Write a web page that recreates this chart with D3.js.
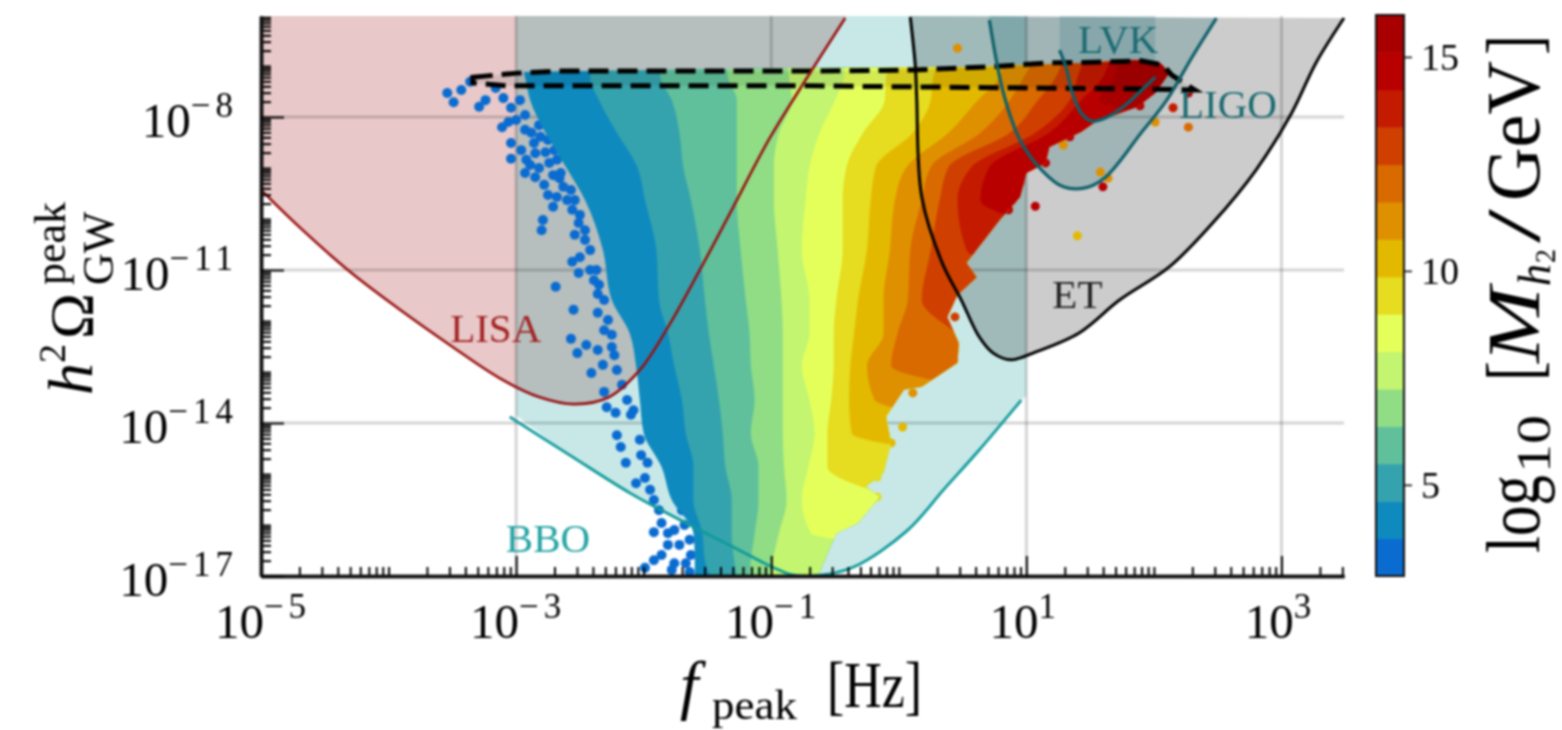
<!DOCTYPE html>
<html>
<head>
<meta charset="utf-8">
<script src="https://cdn.jsdelivr.net/npm/d3@7"></script>
<style>
  html, body { margin: 0; padding: 0; background: #fff; overflow: hidden; }
  svg { display: block; filter: blur(0.8px); }
  text { font-family: "Liberation Serif", serif; fill: #000; }
</style>
</head>
<body>
<div id="chart"></div>
<script>
// every curve is [log10 f, log10 omega]
var lisaCurve = [[-5,-9.43],[-4.69,-10.18],[-4.30,-11.04],[-3.91,-11.78],[-3.52,-12.47],[-3.13,-13.12],[-2.82,-13.49],[-2.54,-13.63],[-2.27,-13.49],[-2.03,-12.96],[-1.80,-12.08],[-1.56,-11.0],[-1.33,-9.92],[-1.02,-8.45],[-0.78,-7.47],[-0.42,-6.06]];
var bboCurve = [[-3.05,-13.88],[-2.58,-14.63],[-2.11,-15.37],[-1.83,-15.75],[-1.33,-16.39],[-0.83,-16.98],[-0.60,-16.98],[-0.35,-16.82],[0.07,-16.10],[0.35,-15.31],[0.63,-14.53],[0.96,-13.55]];
var etCurve = [[0.09,-6.04],[0.13,-7.02],[0.14,-7.61],[0.18,-9.57],[0.34,-10.86],[0.49,-11.59],[0.63,-12.31],[0.74,-12.63],[0.88,-12.76],[1.07,-12.61],[1.41,-12.24],[1.73,-11.59],[2.12,-10.94],[2.46,-10.08],[2.80,-9.04],[3.08,-7.92],[3.27,-6.94],[3.49,-6.06]];
var ligoCurve = [[0.71,-6.10],[0.82,-7.53],[0.95,-8.45],[1.12,-9.04],[1.29,-9.37],[1.46,-9.39],[1.62,-9.18],[1.90,-8.31],[2.10,-7.67],[2.30,-6.82],[2.49,-6.06]];
var lvkCurve = [[1.26,-6.69],[1.31,-7.02],[1.36,-7.53],[1.43,-7.92],[1.51,-8.08],[1.62,-8.02],[1.78,-7.76],[1.88,-7.53],[2.01,-7.22]];
var dashedOutline = [[-3.34,-7.22],[-2.99,-7.14],[-2.65,-7.10],[-0.70,-7.10],[0.11,-7.08],[0.68,-7.02],[1.18,-6.94],[1.65,-6.92],[1.90,-6.90],[2.07,-6.98],[2.14,-7.18],[2.32,-7.47],[1.87,-7.45],[0.14,-7.41],[-0.70,-7.39],[-3.07,-7.39],[-3.34,-7.33]];

var bandColors = ["#0a6cd0","#0f8abf","#35a3ad","#5fc09b","#90dd85","#c3f570","#e5ff5a","#e6dc20","#e3b900","#df9000","#d96a00","#cf4000","#c41a00","#b80000","#a80000"];

// left edge of each mass band, read at these omega levels
var bandLevels = [-6.88,-7.22,-7.67,-8.31,-8.98,-9.63,-10.61,-11.59,-12.24,-12.88,-13.55,-14.20,-14.86,-15.51,-16.16,-16.69,-17.04];
var band1 = [-2.97,-2.93,-2.89,-2.77,-2.61,-2.46,-2.32,-2.25,-2.11,-2.06,-2.03,-2.00,-1.86,-1.78,-1.61,-1.60,-1.60];
var band2 = [-2.42,-2.42,-2.35,-2.21,-2.05,-1.99,-1.90,-1.88,-1.81,-1.76,-1.70,-1.67,-1.61,-1.61,-1.54,-1.52,-1.47];
var band3 = [-1.88,-1.87,-1.78,-1.72,-1.69,-1.63,-1.56,-1.52,-1.49,-1.45,-1.41,-1.38,-1.36,-1.31,-1.31,-1.29,-1.27];
var band4 = [-1.35,-1.34,-1.27,-1.27,-1.27,-1.27,-1.24,-1.20,-1.17,-1.16,-1.13,-1.16,-1.10,-1.10,-1.13,-1.16,-1.17];
var band5 = [-0.87,-0.86,-0.84,-0.94,-0.98,-0.98,-0.95,-0.92,-0.91,-0.91,-0.91,-0.91,-0.90,-0.88,-0.94,-0.99,-1.02];
var band6 = [-0.42,-0.43,-0.50,-0.62,-0.70,-0.73,-0.76,-0.70,-0.70,-0.76,-0.70,-0.66,-0.71,-0.76,-0.69,0.79,0.79];
var band7 = [-0.04,-0.10,-0.11,-0.28,-0.41,-0.44,-0.44,-0.49,-0.51,-0.51,-0.53,-0.56,-0.56,0.00,0.79,0.79,0.79];
var band8 = [0.32,0.27,0.25,0.11,-0.18,-0.22,-0.25,-0.32,-0.35,-0.38,-0.39,-0.37,0.79,0.79,0.79,0.79,0.79];
var band9 = [0.82,0.79,0.62,0.39,0.06,-0.03,-0.07,-0.12,-0.12,-0.25,-0.19,0.79,0.79,0.79,0.79,0.79,0.79];
var band10 = [1.06,0.98,0.87,0.64,0.25,0.18,0.09,0.07,-0.01,-0.06,0.79,0.79,0.79,0.79,0.79,0.79,0.79];
var band11 = [1.29,1.23,1.09,0.87,0.39,0.32,0.25,0.18,0.45,0.79,0.79,0.79,0.79,0.79,0.79,0.79,0.79];
var band12 = [1.45,1.40,1.34,1.07,0.57,0.46,0.53,1.57,1.57,1.57,1.57,1.57,1.57,1.57,1.57,1.57,1.57];
var band13 = [1.65,1.60,1.43,1.18,0.71,0.64,1.57,1.57,1.57,1.57,1.57,1.57,1.57,1.57,1.57,1.57,1.57];
var band14 = [1.72,1.69,1.57,2.74,2.74,2.74,2.74,2.74,2.74,2.74,2.74,2.74,2.74,2.74,2.74,2.74,2.74];
var bandEdges = [band1,band2,band3,band4,band5,band6,band7,band8,band9,band10,band11,band12,band13,band14];

// upper and right limit of the filled scatter
var scatterLimit = [[-5,-7.12],[-3,-7.12],[-0.78,-7.04],[0.62,-7.02],[1.46,-6.94],[1.85,-6.88],[2.05,-6.94],[2.12,-7.14],[2.01,-7.53],[1.87,-7.80],[1.54,-8.10],[1.43,-8.29],[1.18,-8.59],[1.15,-8.90],[1.00,-9.10],[0.95,-9.57],[0.79,-10.02],[0.53,-10.86],[0.61,-11.14],[0.46,-11.49],[0.38,-11.92],[0.47,-12.43],[0.46,-12.82],[0.18,-13.29],[0.04,-13.35],[-0.10,-13.88],[-0.06,-14.39],[-0.12,-14.98],[-0.26,-15.25],[-0.15,-15.45],[-0.32,-15.96],[-0.49,-16.16],[-0.63,-16.98],[-0.66,-17.05],[-5,-17.05]];

// the loose points of the lowest mass band
var bluePoints = [[-3.54,-7.53],[-3.49,-7.71],[-3.43,-7.47],[-3.36,-7.31],[-3.29,-7.80],[-3.24,-7.67],[-3.16,-7.43],[-3.10,-7.63],[-3.11,-8.20],[-3.06,-8.10],[-3.00,-8.06],[-3.04,-8.51],[-3.04,-8.82],[-2.96,-8.65],[-2.92,-8.84],[-2.88,-8.31],[-2.81,-8.39],[-2.85,-8.71],[-2.77,-8.69],[-2.93,-9.10],[-2.85,-9.18],[-2.78,-9.33],[-2.74,-8.90],[-2.68,-8.84],[-2.65,-9.10],[-2.63,-9.37],[-2.68,-9.57],[-2.71,-9.76],[-2.56,-9.82],[-2.57,-9.43],[-2.79,-10.02],[-2.80,-10.22],[-2.51,-10.08],[-2.54,-10.31],[-2.50,-10.75],[-2.56,-10.84],[-2.51,-11.06],[-2.39,-11.20],[-2.37,-11.00],[-2.69,-11.33],[-2.36,-11.47],[-2.55,-11.78],[-2.36,-11.84],[-2.31,-12.18],[-2.57,-12.35],[-2.45,-12.47],[-2.52,-12.63],[-2.36,-12.57],[-2.25,-12.51],[-2.41,-13.02],[-2.32,-12.86],[-2.21,-12.96],[-2.31,-13.39],[-2.29,-13.69],[-2.22,-13.80],[-2.08,-13.75],[-2.21,-14.24],[-2.18,-14.47],[-2.14,-14.78],[-1.97,-14.78],[-2.06,-15.18],[-1.95,-15.31],[-1.86,-15.96],[-1.92,-16.14],[-1.81,-16.16],[-1.86,-16.59],[-1.76,-16.75],[-1.99,-16.84],[-1.78,-16.88],[-1.67,-16.75],
  [-2.93,-8.25],[-2.86,-8.51],[-2.82,-8.16],[-2.75,-8.45],[-2.70,-8.65],[-2.89,-8.94],[-2.82,-9.00],[-2.71,-9.14],[-2.75,-9.53],[-2.66,-9.20],[-2.60,-9.63],[-2.54,-9.63],[-2.50,-9.92],[-2.46,-10.22],[-2.42,-10.61],[-2.46,-10.41],[-2.42,-11.00],[-2.35,-11.29],[-2.31,-11.59],[-2.28,-11.98],[-2.25,-12.27],[-2.23,-12.67],[-2.17,-13.25],[-2.13,-13.55],[-2.10,-13.84],[-2.03,-14.33],[-2.02,-14.63],[-1.99,-15.08],[-1.92,-15.51],[-1.88,-15.71],[-1.76,-16.10],[-1.72,-16.39],[-1.64,-16.92],[-1.92,-16.69],[-1.81,-16.39],
  [-1.68,-16.00],[-1.64,-16.29],[-1.63,-16.59],[-1.70,-15.71],[-2.97,-7.67],[-3.04,-7.82],[-2.93,-7.96]];

// stray points and the bumps on the scatter edge: log f, log omega, band
var strayPoints = [[0.46,-6.65,9],[1.29,-8.55,9],[2.01,-8.10,9],[2.27,-8.20,10],[2.15,-7.82,12],[1.58,-9.08,9],[1.64,-9.20,9],[1.60,-9.37,13],[1.07,-9.75,13],[1.40,-10.33,8],[2.27,-7.53,13],[0.11,-10.86,12],[0.21,-10.98,12],[0.28,-10.67,12],[0.03,-14.08,8],[0.44,-11.92,11],[0.95,-9.29,13],[0.89,-9.63,13],[0.86,-9.82,13],[1.15,-8.90,13],[1.34,-8.39,13],[0.56,-11.14,11],[0.43,-12.76,10],[0.11,-13.41,9],[-0.06,-14.39,8],[-0.17,-15.06,7],[-0.17,-15.45,7],[1.89,-7.78,13]];

var detectorLabels = [
  {name: "LISA", color: "#a32323", f: -3.16, omega: -12.41},
  {name: "BBO", color: "#23a3a3", f: -2.75, omega: -16.53},
  {name: "ET", color: "#222", f: 1.4, omega: -11.75},
  {name: "LVK", color: "#1a6a70", f: 1.72, omega: -6.75},
  {name: "LIGO", color: "#1a6a70", f: 2.58, omega: -8.02}
];

var xMajor = [-5,-3,-1,1,3];
var yMajor = [-8,-11,-14,-17];
var barTicks = [5,10,15];

var width = 1562, height = 730;
var fMax = 3.49, omegaMax = -6.02;

var svg = d3.select("#chart").append("svg")
    .attr("width", width)
    .attr("height", height);

var x = d3.scaleLog().domain([1e-5, Math.pow(10, fMax)]).range([261, 1344]);
var y = d3.scaleLog().domain([1e-17, Math.pow(10, omegaMax)]).range([576, 16]);

var line = d3.line()
    .x(function(d) { return x(Math.pow(10, d[0])); })
    .y(function(d) { return y(Math.pow(10, d[1])); });
var smooth = d3.line()
    .x(line.x()).y(line.y())
    .curve(d3.curveCatmullRom.alpha(0.5));
var edgeLine = d3.line()
    .x(line.x()).y(line.y())
    .curve(d3.curveMonotoneY);

// fill below or above a smooth curve, closed with straight corners
function closedCurve(data, corners) {
    return smooth(data) + line(corners).replace("M", "L") + "Z";
}

var fills = svg.append("g");

// sensitivity regions, painted open upwards
fills.append("path")
    .attr("d", closedCurve(lisaCurve, [[-0.42, omegaMax], [-5, omegaMax]]))
    .style("fill", "#a32323").style("opacity", 0.25);
fills.append("path")
    .attr("d", closedCurve([[-3, -13.85]].concat(bboCurve.slice(1), [[1, -13.47]]), [[1, omegaMax], [-3, omegaMax]]))
    .style("fill", "#23a3a3").style("opacity", 0.25);
fills.append("path")
    .attr("d", closedCurve(etCurve, [[0.09, omegaMax]]))
    .style("fill", "#000").style("opacity", 0.2);
fills.append("path")
    .attr("d", closedCurve(ligoCurve, [[0.71, omegaMax]]))
    .style("fill", "#1f6f78").style("opacity", 0.25);
fills.append("path")
    .attr("d", closedCurve(lvkCurve, [[2.01, omegaMax], [1.26, omegaMax]]))
    .style("fill", "#1f6f78").style("opacity", 0.2);

// grid
var grid = svg.append("g").style("stroke", "#000").style("stroke-opacity", 0.17).style("stroke-width", 3);
grid.selectAll(".gx").data(xMajor.slice(1)).enter().append("line")
    .attr("x1", function(d) { return x(Math.pow(10, d)); })
    .attr("x2", function(d) { return x(Math.pow(10, d)); })
    .attr("y1", y.range()[0]).attr("y2", y.range()[1]);
grid.selectAll(".gy").data(yMajor.slice(0, 3)).enter().append("line")
    .attr("x1", x.range()[0]).attr("x2", x.range()[1])
    .attr("y1", function(d) { return y(Math.pow(10, d)); })
    .attr("y2", function(d) { return y(Math.pow(10, d)); });

// scatter
svg.append("defs").append("clipPath").attr("id", "limit")
    .append("path").attr("d", line(scatterLimit));
svg.append("defs").append("clipPath").attr("id", "plot")
    .append("rect").attr("x", 261).attr("y", 16).attr("width", 1083).attr("height", 560);

var dots = svg.append("g").attr("clip-path", "url(#plot)");
dots.selectAll("circle").data(bluePoints).enter().append("circle")
    .attr("cx", function(d) { return x(Math.pow(10, d[0])); })
    .attr("cy", function(d) { return y(Math.pow(10, d[1])); })
    .attr("r", 5)
    .style("fill", bandColors[0]);

var bands = svg.append("g").attr("clip-path", "url(#limit)");
bandEdges.forEach(function(edge, i) {
    var pts = edge.map(function(f, k) { return [f, bandLevels[k]]; });
    bands.append("path")
        .attr("d", edgeLine(pts) + line([[fMax, -17.04], [fMax, -6.88]]).replace("M", "L") + "Z")
        .style("fill", bandColors[i + 1]);
});

dots.selectAll(".stray").data(strayPoints).enter().append("circle")
    .attr("cx", function(d) { return x(Math.pow(10, d[0])); })
    .attr("cy", function(d) { return y(Math.pow(10, d[1])); })
    .attr("r", 4.5)
    .style("fill", function(d) { return bandColors[d[2]]; });

// dashed outline
svg.append("path")
    .attr("d", line(dashedOutline) + "Z")
    .style("fill", "#000").style("fill-opacity", 0.08)
    .style("stroke", "#000")
    .style("stroke-width", 5)
    .style("stroke-dasharray", "20 9");

// detector curves
function curve(data, color, w) {
    svg.append("path")
        .attr("d", smooth(data))
        .style("fill", "none")
        .style("stroke", color)
        .style("stroke-width", w);
}
curve(lisaCurve, "#981010", 2.6);
curve(bboCurve, "#109a9a", 2.8);
curve(etCurve, "#000", 3);
curve(ligoCurve, "#10606a", 3.2);
curve(lvkCurve, "#10606a", 3.2);

// axes, ticks point inwards
var xMinor = [], yMinor = [];
d3.range(-5, 4).forEach(function(e) {
    d3.range(1, 10).forEach(function(m) {
        var v = m * Math.pow(10, e);
        if (v <= x.domain()[1] && !(m === 1 && xMajor.indexOf(e) >= 0)) xMinor.push(v);
    });
});
d3.range(-17, -6).forEach(function(e) {
    d3.range(1, 10).forEach(function(m) {
        var v = m * Math.pow(10, e);
        if (v <= y.domain()[1] && !(m === 1 && yMajor.indexOf(e) >= 0)) yMinor.push(v);
    });
});

function drawAxis(axis, translate) {
    var g = svg.append("g").attr("transform", translate).call(axis);
    g.selectAll("text").remove();
    g.selectAll(".tick line").style("stroke", "#000").style("stroke-width", 2);
    g.select(".domain").style("stroke", "#111").style("stroke-width", 3.5);
    return g;
}
var pow10 = function(e) { return Math.pow(10, e); };
drawAxis(d3.axisBottom(x).tickValues(xMinor).tickSizeInner(-9).tickSizeOuter(0), "translate(0,576)");
drawAxis(d3.axisBottom(x).tickValues(xMajor.map(pow10)).tickSizeInner(-20).tickSizeOuter(0), "translate(0,576)");
drawAxis(d3.axisLeft(y).tickValues(yMinor).tickSizeInner(-10).tickSizeOuter(0), "translate(261,0)");
drawAxis(d3.axisLeft(y).tickValues(yMajor.map(pow10)).tickSizeInner(-23).tickSizeOuter(0), "translate(261,0)");

// tick labels, 10 with a raised exponent
function tenLabel(px, py, e, anchor) {
    var t = svg.append("text")
        .attr("x", px).attr("y", py)
        .attr("text-anchor", anchor)
        .style("font-size", "49px")
        .text("10");
    t.append("tspan")
        .attr("dy", -20)
        .style("font-size", "35px")
        .style("letter-spacing", "5px")
        .text(String(e).replace("-", "\u2212"));
}
xMajor.forEach(function(e) { tenLabel(x(pow10(e)) + (e > 0 ? -1 : 2), 638, e, "middle"); });
yMajor.forEach(function(e) { tenLabel(238, y(pow10(e)) + 20, e, "end"); });

// detector names
svg.selectAll(".det").data(detectorLabels).enter().append("text")
    .attr("x", function(d) { return x(pow10(d.f)); })
    .attr("y", function(d) { return y(pow10(d.omega)); })
    .attr("text-anchor", "middle")
    .style("font-size", "41px")
    .style("fill", function(d) { return d.color; })
    .text(function(d) { return d.name; });

// axis titles
var xTitle = svg.append("g").attr("transform", "translate(680,707)");
xTitle.append("text").style("font-size", "66px").style("font-style", "italic").text("f");
xTitle.append("text").attr("x", 32).attr("y", 12).style("font-size", "42px").attr("textLength", 85).attr("lengthAdjust", "spacingAndGlyphs").text("peak");
xTitle.append("text").attr("x", 147).style("font-size", "66px").attr("textLength", 95).attr("lengthAdjust", "spacingAndGlyphs").text("[Hz]");

var yTitle = svg.append("g").attr("transform", "translate(92,395) rotate(-90)");
yTitle.append("text").style("font-size", "64px").style("font-style", "italic").text("h");
yTitle.append("text").attr("x", 32).attr("y", -27).style("font-size", "38px").text("2");
yTitle.append("text").attr("x", 56).style("font-size", "62px").text("\u03a9");
yTitle.append("text").attr("x", 110).attr("y", -27).style("font-size", "44px").text("peak");
yTitle.append("text").attr("x", 110).attr("y", 21).style("font-size", "44px").text("GW");

// colour bar
var barMin = 2.87, barMax = 15.98;
var barScale = d3.scaleLinear().domain([barMin, barMax]).range([576, 15]);
var barStep = (barMax - barMin) / bandColors.length;
svg.append("g").selectAll("rect").data(bandColors).enter().append("rect")
    .attr("x", 1376)
    .attr("width", 28)
    .attr("y", function(d, i) { return barScale(barMin + (i + 1) * barStep); })
    .attr("height", function(d, i) { return barScale(barMin + i * barStep) - barScale(barMin + (i + 1) * barStep) + 0.5; })
    .style("fill", function(d) { return d; });
svg.append("rect")
    .attr("x", 1376).attr("y", 15).attr("width", 28).attr("height", 561)
    .style("fill", "none").style("stroke", "#111").style("stroke-width", 2);
var barAxis = svg.append("g").attr("transform", "translate(1404,0)")
    .call(d3.axisRight(barScale).tickValues(barTicks).tickSizeInner(8).tickSizeOuter(0).tickPadding(9));
barAxis.select(".domain").remove();
barAxis.selectAll(".tick line").style("stroke", "#111").style("stroke-width", 1.6);
barAxis.selectAll("text").style("font-size", "38px").style("font-family", "Liberation Serif");

var barTitle = svg.append("g").attr("transform", "translate(1539,553) rotate(-90)");
function barPart(txt, px, py, size, len, italic) {
    var t = barTitle.append("text").attr("x", px).attr("y", py)
        .style("font-size", size + "px")
        .attr("textLength", len).attr("lengthAdjust", "spacingAndGlyphs")
        .text(txt);
    if (italic) t.style("font-style", "italic");
}
barPart("log", 0, 0, 76, 78);
barPart("10", 80, 11, 48, 58);
barPart("[", 172, 0, 76, 20);
barPart("M", 190, 0, 74, 76, true);
barPart("h", 267, 11, 46, 22, true);
barPart("2", 290, 16, 30, 14);
barPart("/", 310, 0, 76, 34);
barPart("GeV", 352, 0, 76, 140);
barPart("]", 498, 0, 76, 20);
</script>
</body>
</html>
